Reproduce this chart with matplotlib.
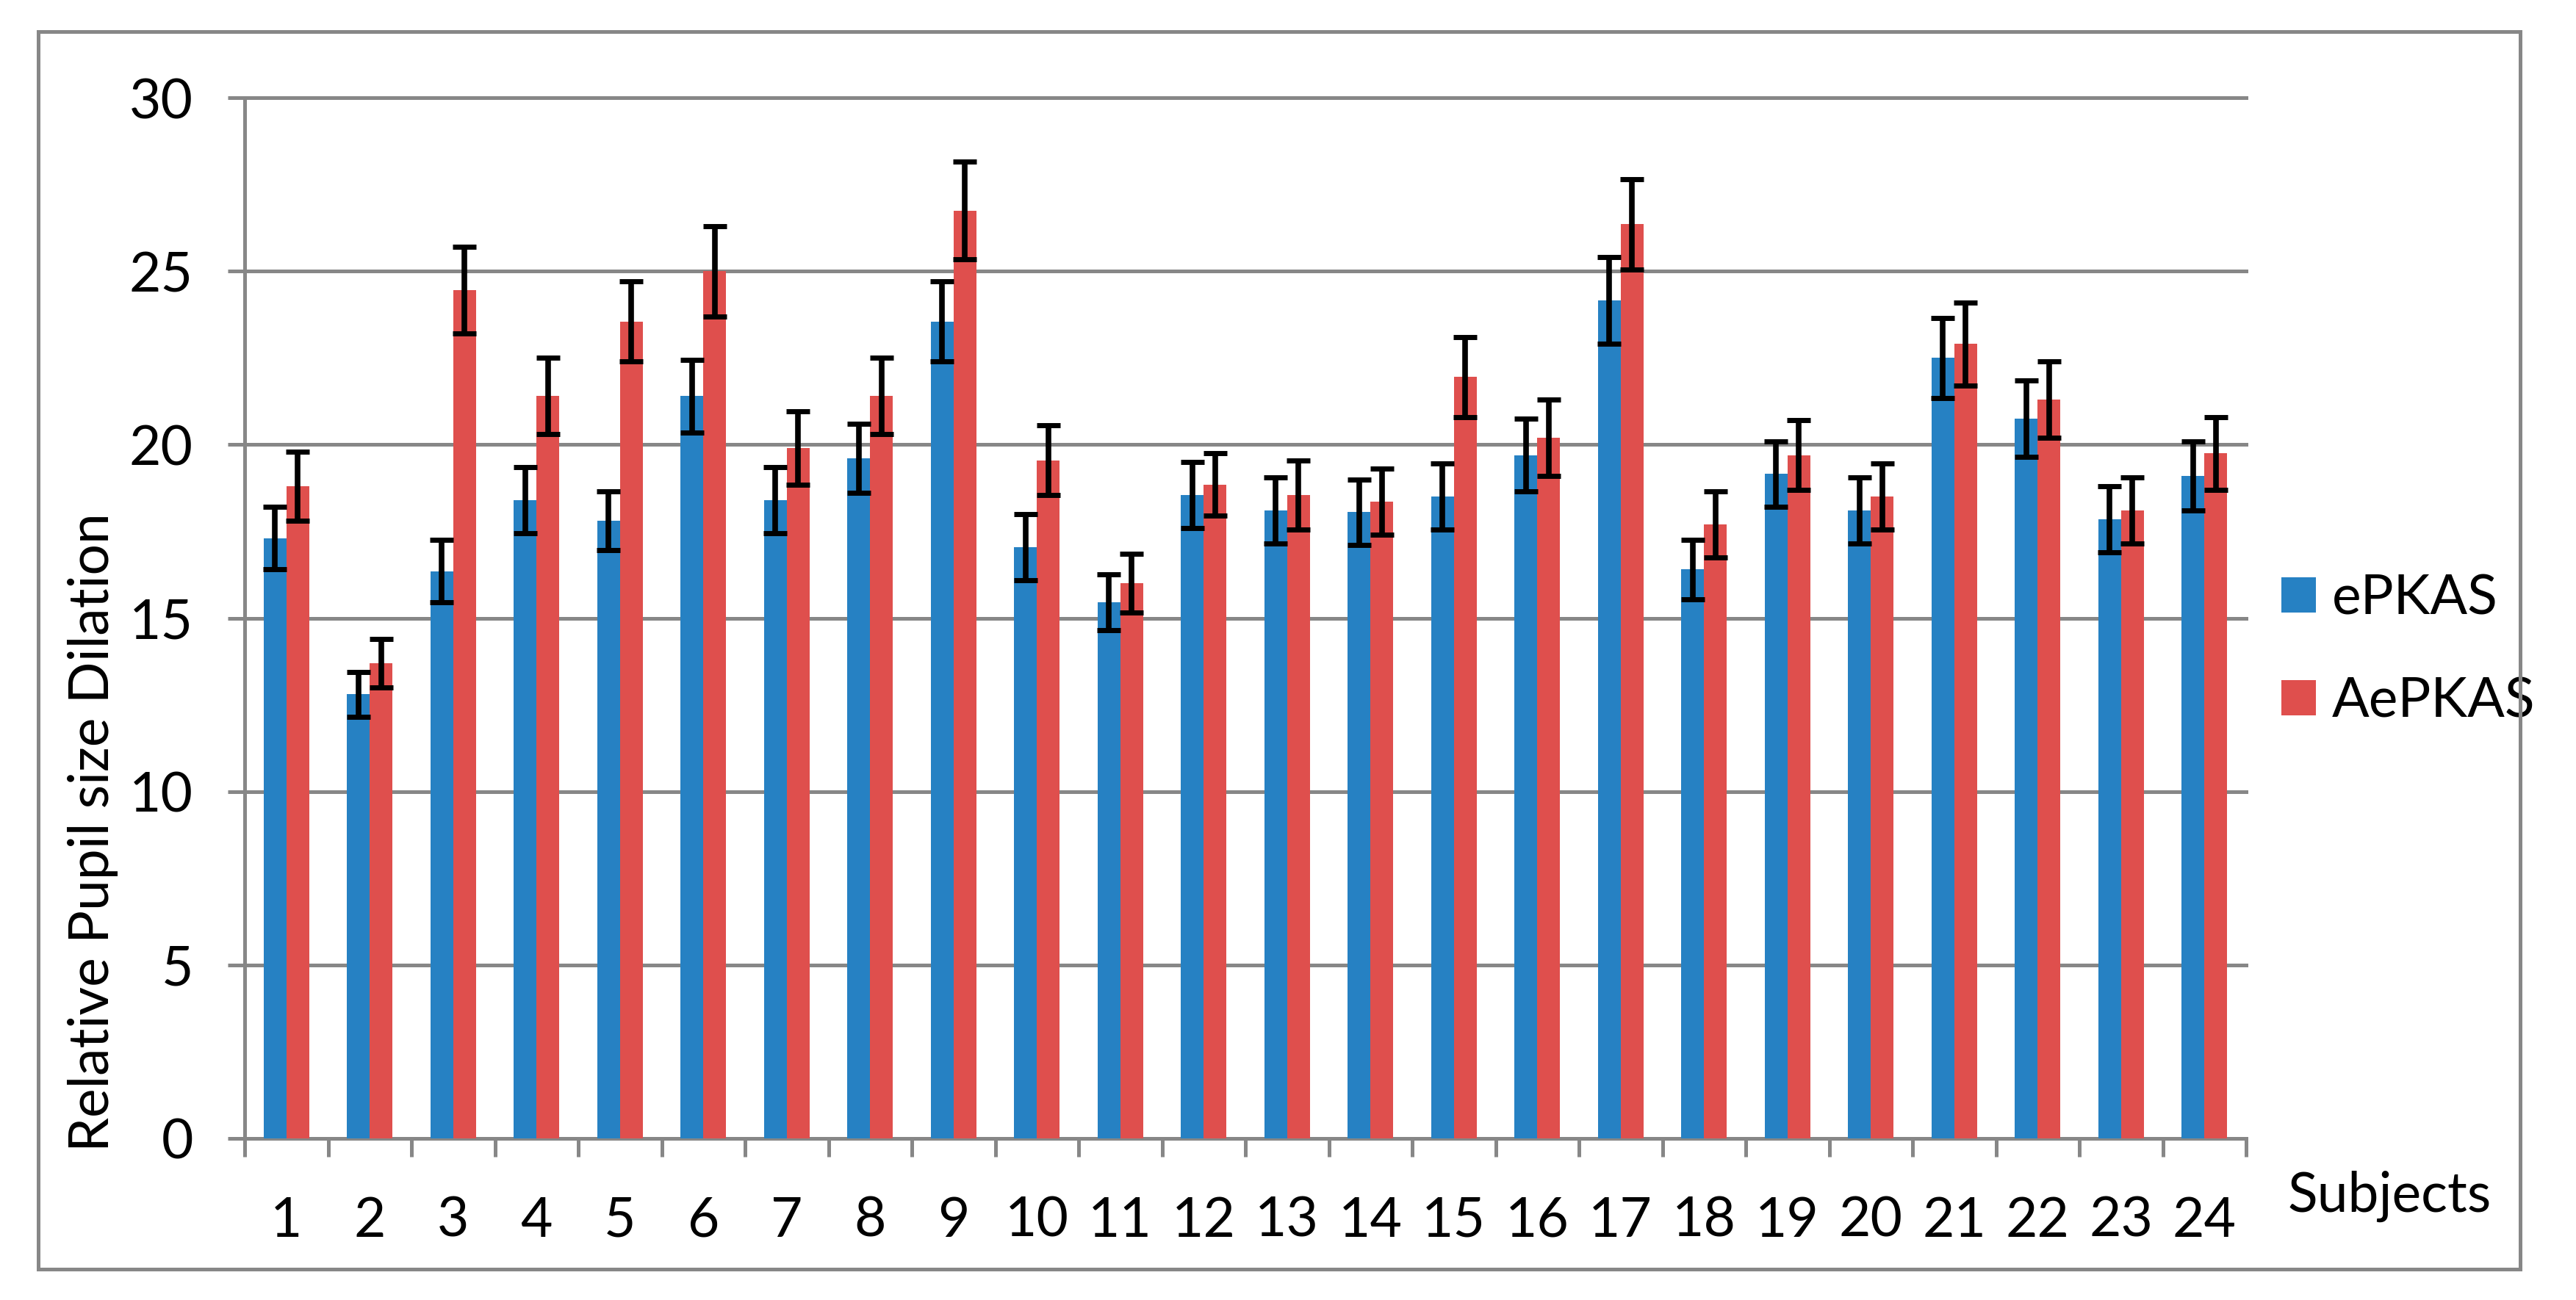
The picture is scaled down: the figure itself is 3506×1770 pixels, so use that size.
import matplotlib
matplotlib.use("Agg")
import matplotlib.pyplot as plt
from matplotlib.patches import Rectangle
import numpy as np

# values
subjects = [str(i) for i in range(1, 25)]
epkas = [17.3, 12.8, 16.35, 18.4, 17.8, 21.4, 18.4, 19.6, 23.55, 17.05, 15.45, 18.55,
         18.1, 18.05, 18.5, 19.7, 24.15, 16.4, 19.15, 18.1, 22.5, 20.75, 17.85, 19.1]
epkas_err = [0.9, 0.65, 0.9, 0.95, 0.85, 1.05, 0.95, 1.0, 1.15, 0.95, 0.8, 0.95,
             0.95, 0.95, 0.95, 1.05, 1.25, 0.85, 0.95, 0.95, 1.15, 1.1, 0.95, 1.0]
aepkas = [18.8, 13.7, 24.45, 21.4, 23.55, 25.0, 19.9, 21.4, 26.75, 19.55, 16.0, 18.85,
          18.55, 18.35, 21.95, 20.2, 26.35, 17.7, 19.7, 18.5, 22.9, 21.3, 18.1, 19.75]
aepkas_err = [1.0, 0.7, 1.25, 1.1, 1.15, 1.3, 1.05, 1.1, 1.4, 1.0, 0.85, 0.9,
              1.0, 0.95, 1.15, 1.1, 1.3, 0.95, 1.0, 0.95, 1.2, 1.1, 0.95, 1.05]
series_names = ["ePKAS", "AePKAS"]
yticks = [0, 5, 10, 15, 20, 25, 30]

BLUE = "#2681C3"
RED = "#DF4F4D"
GRAY = "#878787"

plt.rcParams["font.family"] = ["Lato", "DejaVu Sans"]
plt.rcParams["font.size"] = 54

W, H = 3506, 1770
fig = plt.figure(figsize=(W / 100, H / 100), dpi=100)

# outer frame round the whole chart
fig.patches.append(Rectangle((52 / W, 1 - 1728 / H), (3430 - 52) / W, (1728 - 43) / H,
                             transform=fig.transFigure, fill=False,
                             edgecolor=GRAY, linewidth=3.6))

ax = fig.add_axes([333 / W, 1 - 1550 / H, (3057 - 333) / W, (1550 - 133) / H])

x = np.arange(len(subjects))
w = 0.275
err_kw = dict(ecolor="black", elinewidth=5.5, capsize=11.5, capthick=5)
ax.bar(x - w / 2, epkas, w, yerr=epkas_err, color=BLUE, label=series_names[0],
       error_kw=err_kw, zorder=3)
ax.bar(x + w / 2, aepkas, w, yerr=aepkas_err, color=RED, label=series_names[1],
       error_kw=err_kw, zorder=3)

ax.set_xlim(-0.5, len(subjects) - 0.5)
ax.set_ylim(0, 30)
ax.set_yticks(yticks)
ax.set_xticks(x)
ax.set_xticklabels(subjects)
ax.set_xticks(np.arange(-0.5, len(subjects)), minor=True)

ax.grid(axis="y", color=GRAY, linewidth=3.6, zorder=0)
ax.set_axisbelow(True)
for gl in ax.get_ygridlines():
    gl.set_clip_on(False)

for side in ["top", "right"]:
    ax.spines[side].set_visible(False)
for side in ["left", "bottom"]:
    ax.spines[side].set_color(GRAY)
    ax.spines[side].set_linewidth(3.6)

ax.tick_params(axis="y", length=16.5, width=3.6, color=GRAY, pad=34)
ax.tick_params(axis="x", which="major", length=0, pad=56)
ax.tick_params(axis="x", which="minor", length=18, width=3.6, color=GRAY)

ax.set_ylabel("Relative Pupil size Dilation", loc="bottom")
ax.yaxis.set_label_coords(-0.0631, -0.013)

fig.text(3114 / W, 1 - 1650 / H, "Subjects", ha="left", va="baseline")

ax.legend(loc="center left", bbox_to_anchor=(3105 / W, 0.5),
          bbox_transform=fig.transFigure, frameon=False, borderpad=0,
          borderaxespad=0, handlelength=0.62, handleheight=0.6,
          handletextpad=0.3, labelspacing=0.95)

fig.savefig("out.png", dpi=100)
